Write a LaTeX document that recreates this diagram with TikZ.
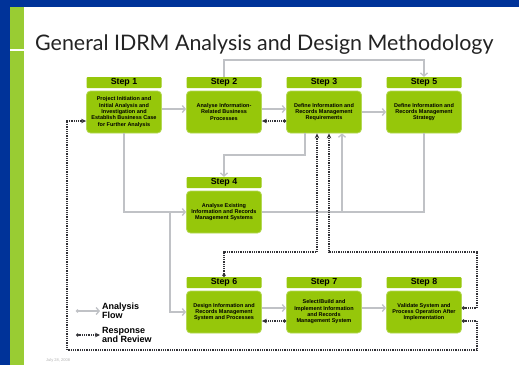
\documentclass[tikz,border=0pt]{standalone}
\usepackage{fontspec}
\setmainfont{Liberation Sans}
\newfontfamily\titlefont{Lato}
\usetikzlibrary{arrows.meta}
\definecolor{frameblue}{RGB}{0,51,153}
\definecolor{stripgreen}{RGB}{153,204,51}
\definecolor{boxgreen}{RGB}{150,199,10}
\definecolor{boxedge}{RGB}{180,216,86}
\definecolor{flowgray}{RGB}{192,194,198}
\definecolor{respdark}{RGB}{50,50,55}
\definecolor{titlegray}{RGB}{35,35,35}
\begin{document}
\begin{tikzpicture}[x=1pt,y=-1pt,
  hdr/.style={fill=boxgreen, rounded corners=1pt, minimum width=75pt, minimum height=11pt, inner sep=0pt, font=\fontsize{8.8}{9}\selectfont\bfseries},
  body/.style={fill=boxgreen, draw=boxedge, line width=0.8pt, rounded corners=4pt, minimum width=75pt, minimum height=42pt, inner sep=1pt, align=center, font=\fontsize{5.5}{6.3}\selectfont\bfseries},
  flowline/.style={draw=flowgray, line width=1.3pt},
  flow/.style={flowline, -{Straight Barb[length=3pt,width=7pt]}},
  respline/.style={draw=respdark, line width=1.1pt, dash pattern=on 0.9pt off 0.9pt},
  resp/.style={respline, {Circle[length=3.2pt]}-{Stealth[length=5pt,width=4.5pt]}},
  legtext/.style={anchor=west, align=left, inner sep=0pt, font=\fontsize{9}{8.5}\selectfont\bfseries}]
\useasboundingbox (0,0) rectangle (519,365);
\fill[white] (0,0) rectangle (519,365);
% frame
\fill[frameblue] (0,0) rectangle (519,7);
\fill[frameblue] (0,0) rectangle (10,365);
\fill[stripgreen] (10,7) rectangle (24,48.5);
\fill[stripgreen] (10,50.5) rectangle (24,365);
% title
\node[anchor=base west, inner sep=0pt, font=\titlefont\fontsize{21.4}{24}\selectfont, text=titlegray] (title) at (35,50) {General IDRM Analysis and Design Methodology};
% headers
\node[hdr] (h1) at (124,82.5) {Step 1};
\node[hdr] (h2) at (224,82.5) {Step 2};
\node[hdr] (h3) at (324,82.5) {Step 3};
\node[hdr] (h5) at (424,82.5) {Step 5};
\node[hdr] (h4) at (224,182.5) {Step 4};
\node[hdr] (h6) at (224,282.5) {Step 6};
\node[hdr] (h7) at (324,282.5) {Step 7};
\node[hdr] (h8) at (424,282.5) {Step 8};
% bodies
\node[body] (b1) at (124,112) {Project Initiation and\\Initial Analysis and\\Investigation and\\Establish Business Case\\for Further Analysis};
\node[body] (b2) at (224,112) {Analyse Information-\\Related Business\\Processes};
\node[body] (b3) at (324,112) {Define Information and\\Records Management\\Requirements};
\node[body] (b5) at (424,112) {Define Information and\\Records Management\\Strategy};
\node[body] (b4) at (224,212) {Analyse Existing\\Information and Records\\Management Systems};
\node[body] (b6) at (224,312) {Design Information and\\Records Management\\System and Processes};
\node[body] (b7) at (324,312) {Select/Build and\\Implement Information\\and Records\\Management System};
\node[body] (b8) at (424,312) {Validate System and\\Process Operation After\\Implementation};
% coordinates
\coordinate (topy) at (0,60);
\coordinate (c34) at (224,155);
\coordinate (j16) at (170,212);
\coordinate (j43) at (342,212);
\coordinate (r1) at (317,252);
\coordinate (r2) at (477,252);
\coordinate (r3) at (329,252);
\coordinate (r4) at (477,350);
\coordinate (r5) at (67,350);
% analysis flow
\draw[flow] ([yshift=3pt]b1.east) -- ([yshift=3pt]b2.west);
\draw[flow] ([yshift=3pt]b2.east) -- ([yshift=3pt]b3.west);
\draw[flow] (b3.east) -- (b5.west);
\draw[flow] (h2.north) -- (h2.north |- topy) -| (h5.north);
\draw[flow] ([xshift=-19pt]b3.south) |- (c34) -- (h4.north);
\draw[flow] (b1.south) |- (b4.west);
\draw[flow] (j16) |- (b6.west);
\draw[flowline] (b4.east) -| (b5.south);
\draw[flow] (j43) -- (j43 |- b3.south);
\draw[flow] ([yshift=4pt]b6.east) -- ([yshift=4pt]b7.west);
\draw[flow] ([yshift=4pt]b7.east) -- ([yshift=4pt]b8.west);
% response and review
\draw[resp] ([yshift=-9pt]b3.west) -- ([yshift=-9pt]b2.east);
\draw[resp] ([yshift=-9pt]b7.west) -- ([yshift=-9pt]b6.east);
\draw[resp] (h6.north) |- (r1) -- (r1 |- b3.south);
\draw[resp] ([yshift=4pt]b8.east) -| (r2) -- (r3) -- (r3 |- b3.south);
\draw[resp] ([yshift=-9pt]b8.east) -| (r4) -- (r5) |- ([yshift=-9pt]b1.west);
% legend
\coordinate (la1) at (76,311);
\coordinate (la2) at (100,311);
\coordinate (lb1) at (76,335);
\coordinate (lb2) at (100,335);
\draw[flowline, {Circle[length=3pt]}-{Straight Barb[length=3pt,width=7pt]}] (la1) -- (la2);
\draw[resp] (lb1) -- (lb2);
\node[legtext] (lt1) at (102,311) {Analysis\\Flow};
\node[legtext] (lt2) at (102,335) {Response\\and Review};
% footer
\node[anchor=west, inner sep=0pt, font=\fontsize{4}{4}\selectfont, text=black!30] (date) at (46,360) {July 28, 2008};
\end{tikzpicture}
\end{document}
